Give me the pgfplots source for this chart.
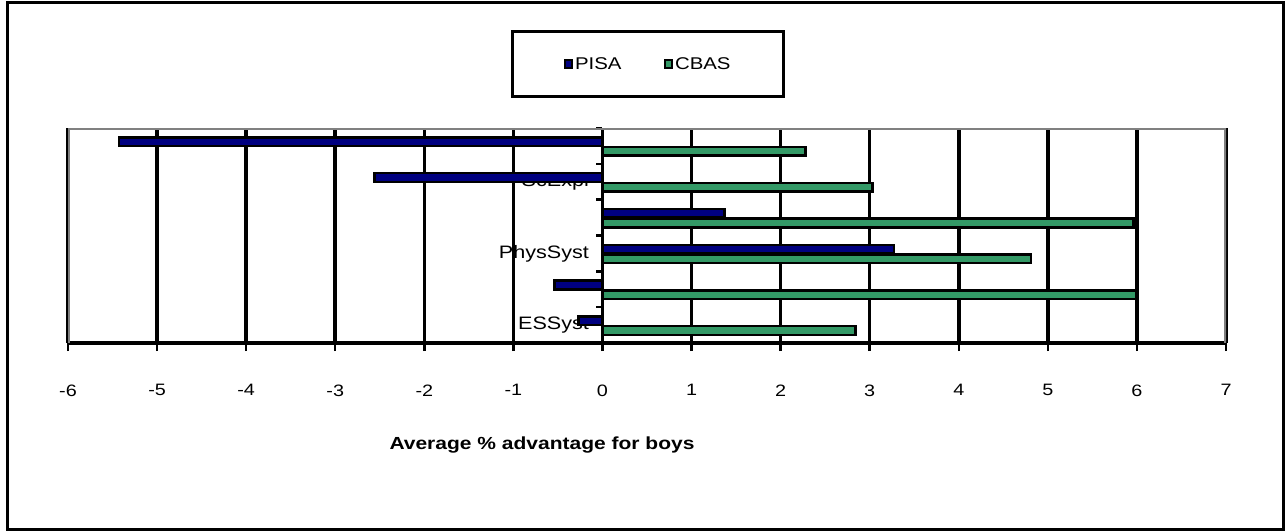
\documentclass[border=0pt]{standalone}
\usepackage{fontspec}
\setmainfont{Liberation Sans}[FakeStretch=1.2]
\usepackage{pgfplots}
\pgfplotsset{compat=1.18}
\definecolor{pisa}{HTML}{000080}
\definecolor{cbas}{HTML}{339966}
\definecolor{boxgray}{HTML}{808080}
\begin{document}
\begin{tikzpicture}[font=\fontsize{16.5pt}{19pt}\selectfont]
\useasboundingbox (0,0) rectangle (1287pt,531pt);
\draw[black,line width=3pt] (7pt,2pt) rectangle (1283pt,528pt);
\begin{axis}[
  at={(68pt,188pt)}, anchor=south west,
  width=1158pt, height=215pt, scale only axis,
  xbar, bar width=0.24,
  xmin=-6, xmax=7, ymin=-0.5, ymax=5.5,
  axis x line*=bottom, axis y line*=middle,
  x axis line style={black,line width=3.5pt},
  y axis line style={black,line width=3pt},
  xtick={-6,-5,...,7},
  xticklabels={-6,-5,-4,-3,-2,-1,0,1,2,3,4,5,6,7},
  hide obscured x ticks=false, hide obscured y ticks=false,
  xmajorgrids, major grid style={black,line width=3.5pt},
  tick align=outside,
  major tick length=8pt,
  x tick style={black,line width=2.5pt},
  xticklabel style={yshift=-30pt,font=\fontsize{16.5pt}{19pt}\selectfont},
  ytick={0,2,4},
  yticklabels={ESSyst,PhysSyst,ScExpl},
  y tick style={draw=none},
  minor ytick={-0.5,0.5,...,5.5},
  minor tick length=6pt,
  minor y tick style={black,line width=2.5pt,draw=black},
  yticklabel style={xshift=-2pt,font=\fontsize{18pt}{20pt}\selectfont},
  xlabel={Average \% advantage for boys},
  xlabel style={at={(axis description cs:0.4093,-0.474)},anchor=center,font=\fontsize{17.5pt}{19pt}\selectfont\bfseries},
  legend columns=2,
  legend style={at={(axis description cs:0.5009,1.2977)},anchor=center,
    draw=black,line width=3pt,inner xsep=51pt,inner ysep=23.5pt,
    font=\fontsize{17pt}{19pt}\selectfont,
    /tikz/every even column/.append style={column sep=40pt}},
  legend image code/.code={\draw[#1,line width=2.5pt] (0pt,-4pt) rectangle (7pt,4pt);},
]
\draw[boxgray,line width=3.5pt] (axis description cs:0,0) -- (axis description cs:0,1) -- (axis description cs:1,1) -- (axis description cs:1,0);
\addplot[fill=pisa,draw=black,line width=2.5pt,bar shift=0.12] coordinates {
  (-0.27,0) (-0.54,1) (3.27,2) (1.37,3) (-2.56,4) (-5.43,5)};
\addplot[fill=cbas,draw=black,line width=2.5pt,bar shift=-0.15] coordinates {
  (2.84,0) (5.99,1) (4.81,2) (5.96,3) (3.03,4) (2.28,5)};
\legend{PISA,CBAS}
\end{axis}
\end{tikzpicture}
\end{document}
